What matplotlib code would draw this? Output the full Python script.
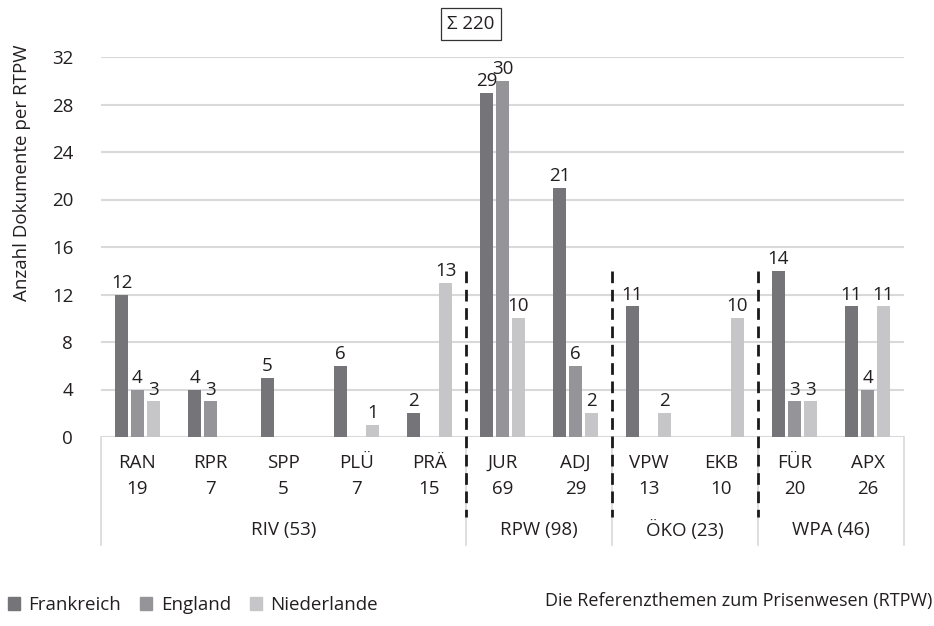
import matplotlib
matplotlib.use("Agg")
import matplotlib.pyplot as plt
import matplotlib.transforms as mtransforms
from matplotlib.patches import Patch
import numpy as np

plt.rcParams['font.family'] = ['Open Sans', 'DejaVu Sans']

# Daten
categories = ["RAN", "RPR", "SPP", "PLÜ", "PRÄ", "JUR", "ADJ", "VPW", "EKB", "FÜR", "APX"]
totals = ["19", "7", "5", "7", "15", "69", "29", "13", "10", "20", "26"]
groups = ["RIV (53)", "RPW (98)", "ÖKO (23)", "WPA (46)"]
group_sizes = [5, 2, 2, 2]
series_names = ["Frankreich", "England", "Niederlande"]
frankreich = [12, 4, 5, 6, 2, 29, 21, 11, 0, 14, 11]
england = [4, 3, 0, 0, 0, 30, 6, 0, 0, 3, 4]
niederlande = [3, 0, 0, 1, 13, 10, 2, 2, 10, 3, 11]
total_label = "Σ 220"

colors = ["#757579", "#959599", "#c6c6c8"]
grid_color = "#d9d9d9"
text_color = "#231f20"
fs = 13.5

fig = plt.figure(figsize=(9.34, 6.26), dpi=100)
ax = fig.add_axes([101 / 934, (626 - 437) / 626, (904 - 101) / 934, 380 / 626])

x = np.arange(len(categories))
width = 0.178
step = 0.219
for i, (vals, name) in enumerate(zip([frankreich, england, niederlande], series_names)):
    bars = ax.bar(x + (i - 1) * step, vals, width, color=colors[i], label=name, zorder=3)
    labels = [str(v) if v > 0 else "" for v in vals]
    ax.bar_label(bars, labels=labels, padding=2, fontsize=fs, color=text_color)

ax.set_xlim(-0.5, len(categories) - 0.5)
ax.set_ylim(0, 32)
ax.set_yticks(range(0, 33, 4))
ax.yaxis.grid(True, color=grid_color, linewidth=1.5, zorder=0)
ax.tick_params(axis='y', length=0, pad=20, labelsize=fs, labelcolor=text_color)
ax.set_xticks([])
for s in ax.spines.values():
    s.set_visible(False)

trans = mtransforms.blended_transform_factory(ax.transData, ax.transAxes)

# Kategorienachse
for xi, (c, t) in enumerate(zip(categories, totals)):
    ax.text(xi, -0.068, c, transform=trans, ha='center', va='center', fontsize=fs, color=text_color)
    ax.text(xi, -0.137, t, transform=trans, ha='center', va='center', fontsize=fs, color=text_color)

bounds = np.concatenate([[0], np.cumsum(group_sizes)]) - 0.5
for b in bounds:
    ax.plot([b, b], [0, -0.284], transform=trans, color=grid_color, lw=1.2, clip_on=False, zorder=1)
for g, lo, hi in zip(groups, bounds[:-1], bounds[1:]):
    ax.text((lo + hi) / 2, -0.245, g, transform=trans, ha='center', va='center', fontsize=fs, color=text_color)

# gestrichelte Trennlinien
for b in bounds[1:-1]:
    ax.plot([b, b], [14 / 32, -0.21], transform=trans, color="#1a1a1a", lw=2.0,
            linestyle=(0, (4.2, 2.4)), clip_on=False, zorder=4)

fig.text(22 / 934, (626 - 173) / 626, "Anzahl Dokumente per RTPW", rotation=90,
         ha='center', va='center', fontsize=fs, color=text_color)
fig.text(932 / 934, (626 - 601) / 626, "Die Referenzthemen zum Prisenwesen (RTPW)",
         ha='right', va='center', fontsize=13, color=text_color)
fig.text(471 / 934, (626 - 24) / 626, total_label, ha='center', va='center', fontsize=fs,
         color=text_color, bbox=dict(boxstyle='square,pad=0.35', fc='white', ec='#333333', lw=0.9))

handles = [Patch(color=c) for c in colors]
fig.legend(handles, series_names, loc='center left', bbox_to_anchor=(8 / 934, 21 / 626),
           ncol=3, frameon=False, fontsize=fs, handlelength=0.65, handleheight=0.65,
           handletextpad=0.45, columnspacing=1.0, borderpad=0, borderaxespad=0,
           labelcolor=text_color)

fig.savefig("out.png", dpi=100)
